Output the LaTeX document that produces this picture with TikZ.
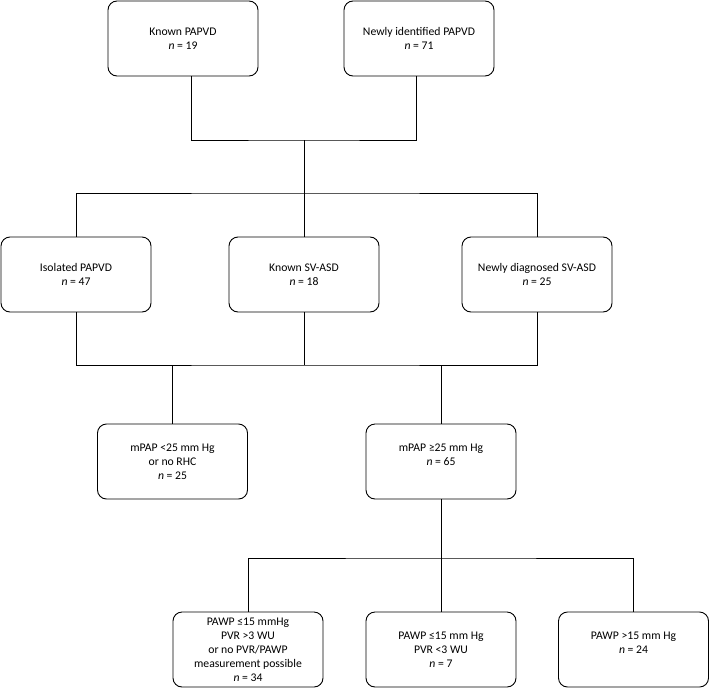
\documentclass[tikz,border=0pt]{standalone}
\usepackage{fontspec}
\setmainfont{Carlito}
\def\nn#1{\textit{n} = #1}
\begin{document}
\begin{tikzpicture}[x=1pt,y=-1pt,
					box/.style={draw,line width=0.9pt,rounded corners=9pt,
						minimum width=150pt,minimum height=75pt,inner sep=2pt,
						align=center,font=\fontsize{11.7}{14}\selectfont},
					link/.style={line width=0.9pt}]
				\useasboundingbox (0,0) rectangle (709,688);
				% first level
				\node[box] (known) at (183,38.5) {Known PAPVD\\\nn{19}};
				\node[box] (newly) at (419,38.5) {Newly identified PAPVD\\\nn{71}};
				% second level
				\node[box] (isolated) at (76,274.5) {Isolated PAPVD\\\nn{47}};
				\node[box] (knownsv) at (304,274.5) {Known SV-ASD\\\nn{18}};
				\node[box] (newsv) at (537,274.5) {Newly diagnosed SV-ASD\\\nn{25}};
				% third level
				\node[box] (low) at (172.5,461.5) {mPAP <25 mm Hg\\or no RHC\\\nn{25}};
				\node[box] (high) at (441,461.5) {mPAP ≥25 mm Hg\\\nn{65}\\\mbox{}};
				% fourth level
				\node[box] (pvrhigh) at (248,649.5) {PAWP ≤15 mmHg\\PVR >3 WU\\or no PVR/PAWP\\measurement possible\\\nn{34}};
				\node[box] (pvrlow) at (441,649.5) {PAWP ≤15 mm Hg\\PVR <3 WU\\\nn{7}};
				\node[box] (pawphigh) at (633.5,649.5) {PAWP >15 mm Hg\\\nn{24}\\\mbox{}};
				\coordinate (top) at (304,140);
				\coordinate (spread) at (304,193);
				\coordinate (merge) at (304,365);
				\coordinate (split) at (441,558);
				% connectors
				\draw[link] ([xshift=8pt]known.south) |- (top) -| ([xshift=-3pt]newly.south);
				\draw[link] (top) -- (knownsv.north);
				\draw[link] (isolated.north) |- (spread) -| (newsv.north);
				\draw[link] (isolated.south) |- (merge) -| (newsv.south);
				\draw[link] (knownsv.south) -- (merge);
				\draw[link] (low.north) -- (low.north |- merge);
				\draw[link] (high.north) -- (high.north |- merge);
				\draw[link] (high.south) -- (pvrlow.north);
				\draw[link] (pvrhigh.north) |- (split) -| (pawphigh.north);
			\end{tikzpicture}
\end{document}
